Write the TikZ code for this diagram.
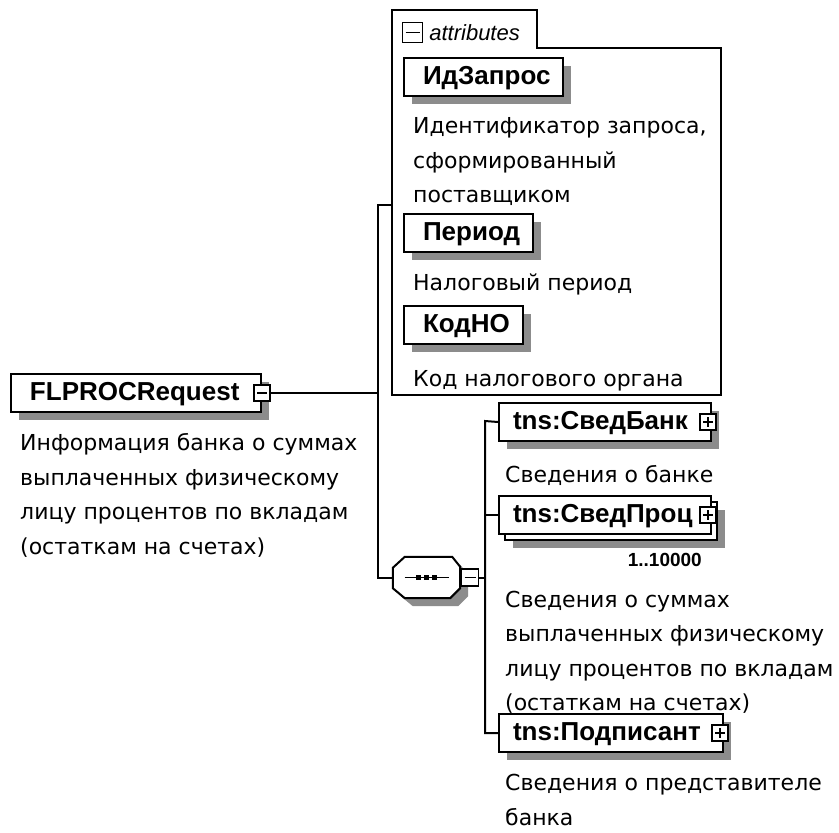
\documentclass[tikz,border=0pt]{standalone}
\usepackage{fontspec}
\setmainfont{DejaVu Sans}
\newfontfamily\namefont{Liberation Sans}
\usetikzlibrary{positioning,shadows}

\tikzset{
  conn/.style={line width=2pt},
  shade8/.style={drop shadow={shadow xshift=8pt, shadow yshift=-8pt, fill=black!45, opacity=1}},
  elembox/.style={draw, fill=white, line width=2pt, anchor=north west, align=left,
    inner xsep=19pt, inner ysep=0pt, minimum height=38pt, text height=19pt, text depth=5pt,
    font=\namefont\bfseries\fontsize{26}{26}\selectfont},
  elem/.style={elembox, shade8},
  desc/.style={anchor=north west, align=left, inner sep=0pt, font=\fontsize{22}{34.5}\selectfont},
  tog/.style={draw, fill=white, line width=1.3pt, minimum size=16pt, inner sep=0pt},
  minus/.style={tog, path picture={
      \draw[line width=1.3pt] ([xshift=3pt]path picture bounding box.west) -- ([xshift=-3pt]path picture bounding box.east);}},
  plus/.style={tog, path picture={
      \draw[line width=1.3pt] ([xshift=3pt]path picture bounding box.west) -- ([xshift=-3pt]path picture bounding box.east);
      \draw[line width=1.3pt] ([yshift=-3pt]path picture bounding box.north) -- ([yshift=3pt]path picture bounding box.south);}}
}

\begin{document}
\begin{tikzpicture}[x=1pt,y=-1pt]
  \useasboundingbox[fill=white] (0,0) rectangle (839,833);

  % attributes frame
  \node[minimum width=329pt, minimum height=385pt, anchor=north west, inner sep=0pt] (attrs) at (392,10) {};
  \draw[line width=2pt] (attrs.south west) -- (attrs.north west) -- ++(145,0) -- ++(0,38)
    -- (attrs.east |- 0,48) -- (attrs.south east) -- cycle;
  \node[minus, minimum size=20pt] (attr-tog) at (412.5,32.5) {};
  \node[right=6pt of attr-tog, inner sep=0pt, font=\namefont\itshape\fontsize{22}{22}\selectfont] (attr-title) {attributes};

  \node[elem, text width=121pt] (idzapros) at (403,57) {ИдЗапрос};
  \node[desc] (idzapros-desc) at (413,117.5) {Идентификатор запроса,\\сформированный\\поставщиком};
  \node[elem, text width=91pt] (period) at (403,213) {Период};
  \node[desc] (period-desc) at (413,273.5) {Налоговый период};
  \node[elem, text width=81pt] (kodno) at (403,305) {КодНО};
  \node[desc] (kodno-desc) at (413,370.5) {Код налогового органа};

  % root element
  \node[elem, text width=212pt] (flproc) at (10,373) {FLPROCRequest};
  \node[minus] (flproc-tog) at (flproc.east) {};
  \node[desc] (flproc-desc) at (20,433.5) {Информация банка о суммах\\выплаченных физическому\\лицу процентов по вкладам\\(остаткам на счетах)};

  % sequence
  \node[minimum width=67pt, minimum height=41pt, inner sep=0pt] (seq) at (426.5,577.5) {};
  \draw[line width=2pt, fill=white, shade8] ([xshift=12pt]seq.north west) -- ([xshift=-8pt]seq.north east)
    -- ([yshift=-10pt]seq.north east) -- ([yshift=10pt]seq.south east) -- ([xshift=-10pt]seq.south east)
    -- ([xshift=12pt]seq.south west) -- ([yshift=10pt]seq.south west) -- ([yshift=-11pt]seq.north west) -- cycle;
  \draw[line width=1.5pt] ([xshift=-22pt]seq.center) -- ([xshift=22pt]seq.center);
  \foreach \dx in {-8,0,8}
    \fill ([xshift=\dx pt]seq.center) ++(-2.5,-2.5) rectangle ++(5,5);
  \node[minus, minimum size=17pt] (seq-tog) at (470,577.5) {};

  \node[elem, inner xsep=14pt, text width=184pt] (svedbank) at (498,402) {tns:СведБанк};
  \node[plus] (svedbank-tog) at ([xshift=-4pt]svedbank.east) {};
  \node[desc] (svedbank-desc) at (505,465.5) {Сведения о банке};

  \node[elem, inner xsep=14pt, text width=184pt] (svedproc-back) at (504,501) {\phantom{x}};
  \node[elembox, inner xsep=14pt, text width=184pt] (svedproc) at (498,495) {tns:СведПроц};
  \node[plus] (svedproc-tog) at ([xshift=-4pt]svedproc.east) {};
  \node[anchor=east, inner sep=0pt, font=\namefont\bfseries\fontsize{19}{19}\selectfont] (svedproc-occ) at (702,560) {1..10000};
  \node[desc] (svedproc-desc) at (505,590.5) {Сведения о суммах\\выплаченных физическому\\лицу процентов по вкладам\\(остаткам на счетах)};

  \node[elem, inner xsep=14pt, text width=196pt] (podpisant) at (498,713) {tns:Подписант};
  \node[plus] (podpisant-tog) at ([xshift=-4pt]podpisant.east) {};
  \node[desc] (podpisant-desc) at (505,774) {Сведения о представителе\\банка};

  % connectors
  \coordinate (bus) at (378,205);
  \coordinate (seqbus) at (485,421);
  \draw[conn] (flproc-tog.east) -- (flproc-tog.east -| bus);
  \draw[conn] (attrs.west |- bus) -- (bus) -- (bus |- seq.west) -- (seq.west);
  \draw[conn] (seq.east) -- (seq-tog.west);
  \draw[conn] (seq-tog.east) -- (seq-tog.east -| seqbus);
  \draw[conn] (svedbank.west) -- (seqbus) -- (seqbus |- podpisant.west) -- (podpisant.west);
  \draw[conn] (seqbus |- svedproc.west) -- (svedproc.west);
\end{tikzpicture}
\end{document}
